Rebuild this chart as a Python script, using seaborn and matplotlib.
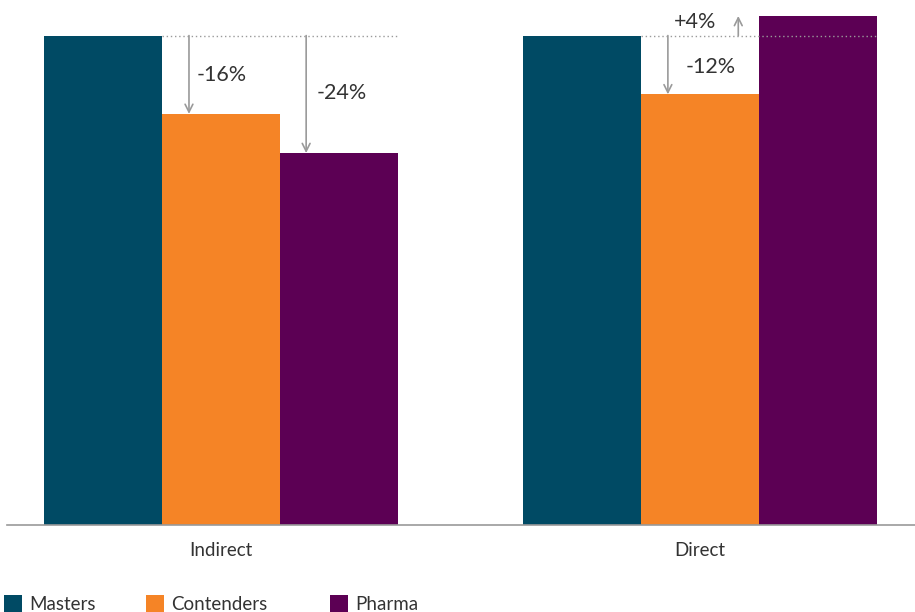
import numpy as np
import pandas as pd
import matplotlib.pyplot as plt
import seaborn as sns

sns.set_theme(style="white")
plt.rcParams['font.family'] = ['Lato', 'DejaVu Sans']

# data (Masters = 100)
channels = ["Indirect", "Direct"]
groups = ["Masters", "Contenders", "Pharma"]
masters = [100, 100]
contenders = [84, 88]
pharma = [76, 104]
colors = ["#004a64", "#f58426", "#5c0054"]

df = pd.DataFrame({
    "Channel": channels * 3,
    "Group": [g for g in groups for _ in channels],
    "Value": masters + contenders + pharma,
})

fig = plt.figure(figsize=(9.15, 6.12), dpi=100)
ax = fig.add_axes([7 / 915, 1 - 525 / 612, 908 / 915, 509 / 612])

sns.barplot(data=df, x="Channel", y="Value", hue="Group", order=channels,
            hue_order=groups, palette=colors, width=0.74, gap=0,
            saturation=1, errorbar=None, linewidth=0, ax=ax)

ax.set_xlim(-0.447, 1.449)
ax.set_ylim(0, 104)
ax.set_xlabel("")
ax.set_ylabel("")
ax.set_yticks([])
for s in ["top", "right", "left"]:
    ax.spines[s].set_visible(False)
ax.spines["bottom"].set_color("#999999")
ax.spines["bottom"].set_linewidth(1.2)
ax.tick_params(axis="x", length=0, pad=12, labelsize=13.5, colors="#333333")

bw = 0.74 / 3
grey = "#9a9a9a"
txt = "#333333"

# dotted reference lines at the Masters level
for i in range(2):
    ax.plot([i - bw / 2, i + 1.5 * bw], [100, 100], ls=(0, (1, 2)),
            color=grey, lw=1, zorder=5)

# arrows + labels
def arrow(x, y0, y1):
    ax.annotate("", xy=(x, y1), xytext=(x, y0),
                arrowprops=dict(arrowstyle="->", color=grey, lw=1.2,
                                shrinkA=0, shrinkB=0, mutation_scale=14),
                zorder=6)

fs = 15.5
arrow(0 - 0.067, 100, contenders[0])
ax.text(0 - 0.05, 92, "-16%", fontsize=fs, color=txt, va="center")
arrow(bw - 0.069, 100, pharma[0])
ax.text(bw - 0.048, 88.3, "-24%", fontsize=fs, color=txt, va="center")
arrow(1 - 0.067, 100, contenders[1])
ax.text(1 - 0.029, 93.5, "-12%", fontsize=fs, color=txt, va="center")
arrow(1 + 0.08, 100, pharma[1])
ax.text(1 - 0.055, 102.7, "+4%", fontsize=fs, color=txt, va="center")

handles, labels = ax.get_legend_handles_labels()
ax.get_legend().remove()
legend_x = [7, 149, 333]
for h, lab, px in zip(handles, labels, legend_x):
    fig.legend([h], [lab], loc="lower left",
               bbox_to_anchor=(px / 915 - 0.012, -0.014),
               frameon=False, handlelength=1.0, handleheight=1.0,
               handletextpad=0.35, fontsize=13.5, labelcolor=txt,
               borderaxespad=0)

fig.savefig("out.png", dpi=100)
